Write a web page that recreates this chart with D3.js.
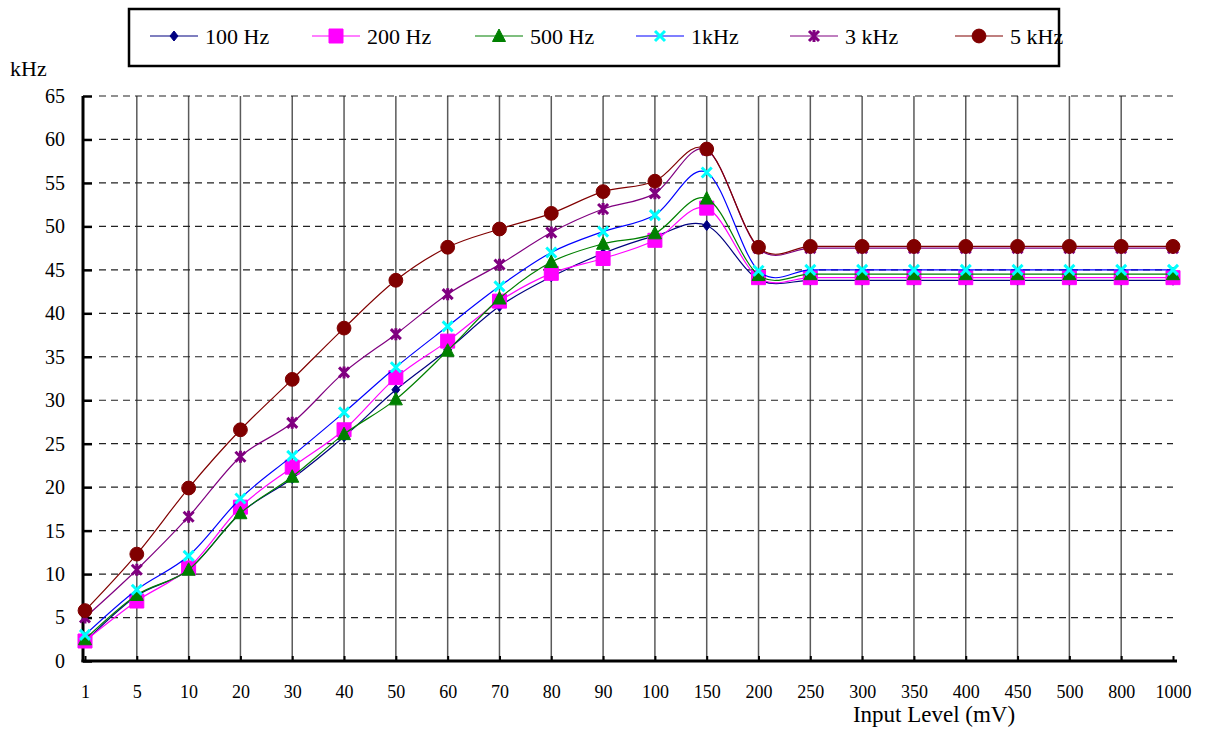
<!DOCTYPE html>
<html>
<head>
<meta charset="utf-8">
<script src="https://cdn.jsdelivr.net/npm/d3@7"></script>
<style>
  html, body { margin: 0; padding: 0; background: #fff; }
  svg { display: block; }
  text { font-family: "Liberation Serif", "Times New Roman", serif; fill: #000; }
</style>
</head>
<body>
<svg id="chart" width="1205" height="731"></svg>
<script>
// Input level categories (mV) along the x axis
const categories = ["1","5","10","20","30","40","50","60","70","80","90","100","150","200","250","300","350","400","450","500","800","1000"];

// Output frequency (kHz) for each test tone
const hz100 = [2.2, 7.5, 10.5, 17.0, 21.0, 25.8, 31.2, 35.8, 40.8, 44.2, 46.9, 48.9, 50.1, 43.9, 43.8, 43.8, 43.8, 43.8, 43.8, 43.8, 43.8, 43.8];
const hz200 = [2.3, 6.9, 10.7, 17.7, 22.3, 26.6, 32.6, 36.8, 41.4, 44.6, 46.3, 48.4, 52.1, 44.1, 44.1, 44.1, 44.1, 44.1, 44.1, 44.1, 44.1, 44.1];
const hz500 = [2.5, 7.6, 10.5, 17.0, 21.2, 26.1, 30.1, 35.7, 41.7, 45.9, 48.0, 49.2, 53.2, 44.4, 44.5, 44.5, 44.5, 44.5, 44.5, 44.5, 44.5, 44.5];
const khz1  = [3.0, 8.2, 12.1, 18.7, 23.6, 28.6, 33.8, 38.5, 43.1, 47.0, 49.4, 51.3, 56.2, 44.9, 45.0, 45.0, 45.0, 45.0, 45.0, 45.0, 45.0, 45.0];
const khz3  = [5.0, 10.5, 16.6, 23.5, 27.4, 33.2, 37.6, 42.2, 45.6, 49.3, 52.0, 53.8, 58.8, 47.5, 47.5, 47.5, 47.5, 47.5, 47.5, 47.5, 47.5, 47.5];
const khz5  = [5.8, 12.3, 19.9, 26.6, 32.4, 38.3, 43.8, 47.6, 49.7, 51.5, 54.0, 55.2, 58.9, 47.6, 47.7, 47.7, 47.7, 47.7, 47.7, 47.7, 47.7, 47.7];

const seriesNames = ["100 Hz", "200 Hz", "500 Hz", "1kHz", "3 kHz", "5 kHz"];
const yTicks = [0, 5, 10, 15, 20, 25, 30, 35, 40, 45, 50, 55, 60, 65];

const series = [
  { name: seriesNames[0], values: hz100, line: "#000080", fill: "#000080", marker: "diamond" },
  { name: seriesNames[1], values: hz200, line: "#FF00FF", fill: "#FF00FF", marker: "square" },
  { name: seriesNames[2], values: hz500, line: "#008000", fill: "#008000", marker: "triangle" },
  { name: seriesNames[3], values: khz1,  line: "#0000FF", fill: "#00FFFF", marker: "cross" },
  { name: seriesNames[4], values: khz3,  line: "#800080", fill: "#800080", marker: "star" },
  { name: seriesNames[5], values: khz5,  line: "#800000", fill: "#800000", marker: "circle" }
];

const svg = d3.select("#chart");
const plotLeft = 85, plotRight = 1173, plotTop = 96, plotBottom = 661;

const x = d3.scalePoint().domain(categories).range([plotLeft, plotRight]);
const y = d3.scaleLinear().domain([0, 65]).range([plotBottom, plotTop]);

// Vertical grid lines at each category
svg.append("g")
  .selectAll("line")
  .data(categories.slice(1, -1))
  .join("line")
  .attr("x1", d => x(d)).attr("x2", d => x(d))
  .attr("y1", plotTop).attr("y2", plotBottom)
  .attr("stroke", "#5a5a5a").attr("stroke-width", 1.5);

// Horizontal dashed grid lines
svg.append("g")
  .selectAll("line")
  .data(yTicks.slice(1))
  .join("line")
  .attr("x1", plotLeft + 14).attr("x2", plotRight)
  .attr("y1", d => y(d)).attr("y2", d => y(d))
  .attr("stroke", "#222").attr("stroke-width", 1.2)
  .attr("stroke-dasharray", "7,5");

// Y axis with inward ticks
const yAxis = d3.axisLeft(y).tickValues(yTicks).tickSize(-9).tickPadding(18);
const gy = svg.append("g").attr("transform", `translate(${plotLeft - 2},0)`).call(yAxis);
gy.select(".domain").attr("stroke", "#000").attr("stroke-width", 3)
  .attr("d", `M0,${plotTop}V${plotBottom + 1}`);
gy.selectAll(".tick line").attr("stroke", "#000").attr("stroke-width", 2.5);
gy.selectAll(".tick text").attr("font-size", 20).attr("font-family", "Liberation Serif").attr("fill", "#000");

// X axis with small inward ticks
const xAxis = d3.axisBottom(x).tickSize(-5).tickPadding(24);
const gx = svg.append("g").attr("transform", `translate(0,${plotBottom})`).call(xAxis);
gx.select(".domain").attr("stroke", "#000").attr("stroke-width", 3)
  .attr("d", `M${plotLeft - 3.5},0H${plotRight + 4}`);
gx.selectAll(".tick line").attr("stroke", "#000").attr("stroke-width", 2);
gx.selectAll(".tick text").attr("font-size", 18).attr("font-family", "Liberation Serif").attr("fill", "#000");

// Axis titles
svg.append("text").attr("x", 10).attr("y", 76).attr("font-size", 22).text("kHz");
svg.append("text").attr("x", 934).attr("y", 722).attr("text-anchor", "middle")
  .attr("font-size", 23).text("Input Level (mV)");

// Marker shapes
function markerPath(type) {
  switch (type) {
    case "diamond": return "M0,-5L4,0L0,5L-4,0Z";
    case "square": return "M-7,-7H7V7H-7Z";
    case "triangle": return "M0,-7L6.5,5.5H-6.5Z";
    case "cross": return "M-5,-5L5,5M5,-5L-5,5";
    case "star": return "M-5,-5L5,5M5,-5L-5,5M0,-6V6";
    case "circle": return d3.symbol(d3.symbolCircle, 150)();
  }
}
function drawMarker(g, s, cx, cy) {
  const p = g.append("path").attr("transform", `translate(${cx},${cy})`).attr("d", markerPath(s.marker));
  if (s.marker === "cross" || s.marker === "star") {
    p.attr("fill", "none").attr("stroke", s.fill).attr("stroke-width", 3);
  } else {
    p.attr("fill", s.fill).attr("stroke", s.fill).attr("stroke-width", 1);
  }
}

const line = d3.line()
  .x((d, i) => x(categories[i]))
  .y(d => y(d))
  .curve(d3.curveCatmullRom.alpha(0));

// Series: smoothed line, then markers
series.forEach(s => {
  const g = svg.append("g");
  g.append("path").datum(s.values).attr("d", line)
    .attr("fill", "none").attr("stroke", s.line).attr("stroke-width", 1.2);
  s.values.forEach((v, i) => drawMarker(g, s, x(categories[i]), y(v)));
});

// Legend
const legend = svg.append("g");
legend.append("rect").attr("x", 129).attr("y", 9).attr("width", 930).attr("height", 57)
  .attr("fill", "#fff").attr("stroke", "#000").attr("stroke-width", 2.5);
const legendX = [150, 312, 475, 636, 790, 955];
series.forEach((s, i) => {
  const lx = legendX[i], ly = 36;
  const g = legend.append("g");
  g.append("line").attr("x1", lx).attr("x2", lx + 48).attr("y1", ly).attr("y2", ly)
    .attr("stroke", s.line).attr("stroke-width", 1.2);
  drawMarker(g, s, lx + 24, ly);
  g.append("text").attr("x", lx + 55).attr("y", ly + 8).attr("font-size", 22).text(s.name);
});
</script>
</body>
</html>
